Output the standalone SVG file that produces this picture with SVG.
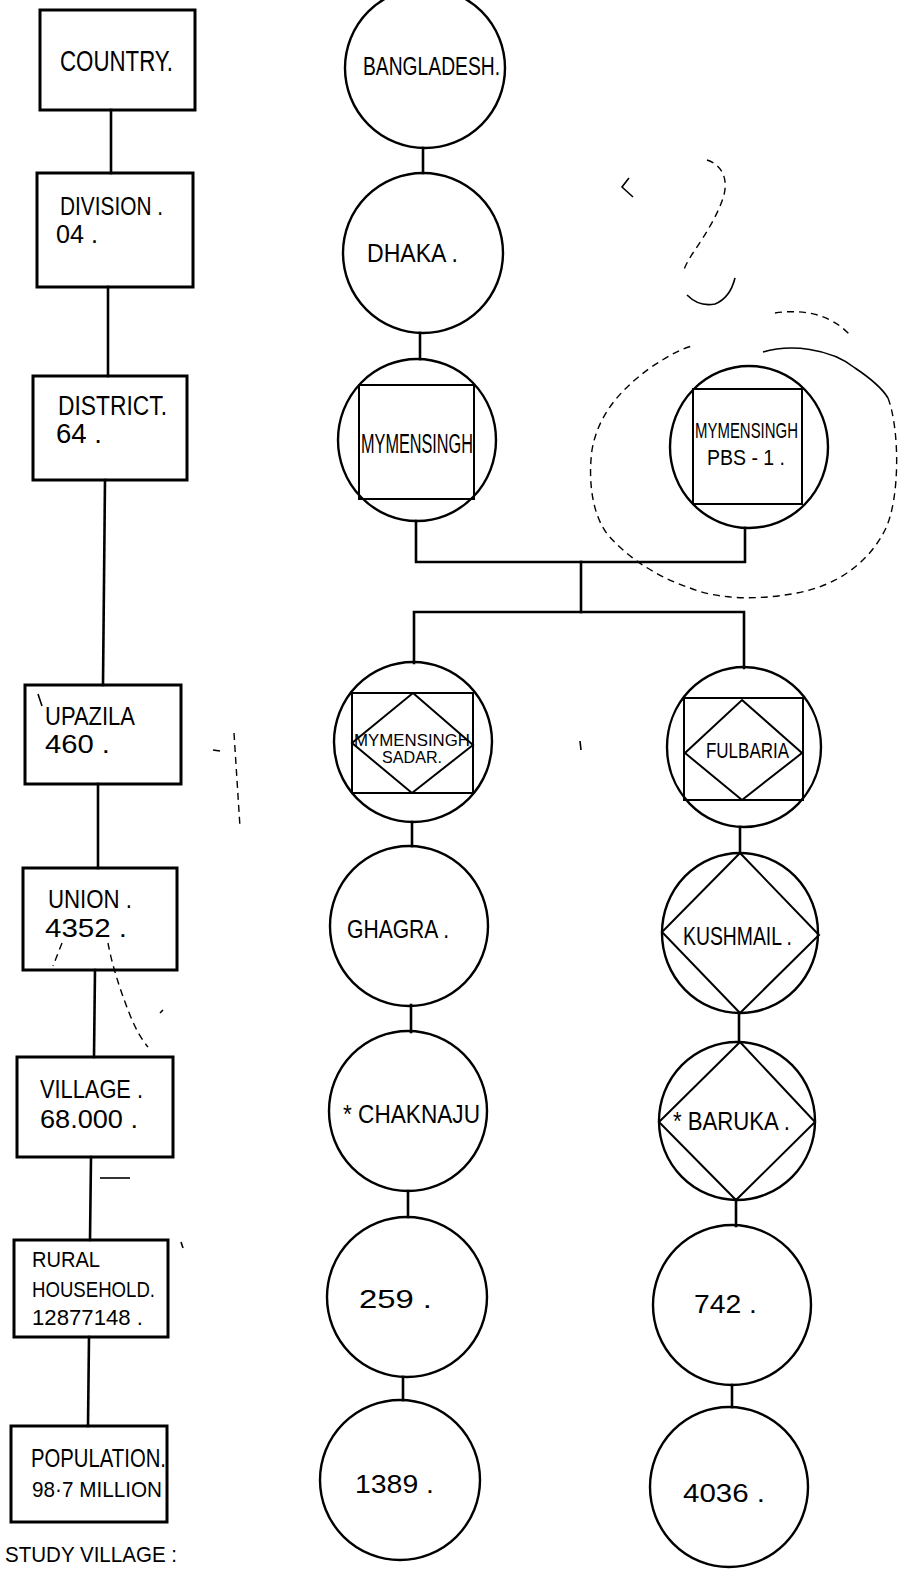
<svg xmlns="http://www.w3.org/2000/svg" width="905" height="1569" viewBox="0 0 905 1569">
<style>
.box{fill:none;stroke:#000;stroke-width:3}
.cir{fill:none;stroke:#000;stroke-width:2.4}
.in{fill:none;stroke:#000;stroke-width:2}
.con{fill:none;stroke:#000;stroke-width:2.6;stroke-linecap:square}
.dash{fill:none;stroke:#000;stroke-width:1.4;stroke-dasharray:7 5}
.sol{fill:none;stroke:#000;stroke-width:1.6}
.t{font-family:"Liberation Sans",Arial,sans-serif;font-size:25px;fill:#000}
.s{font-family:"Liberation Sans",Arial,sans-serif;font-size:22px;fill:#000}
.xs{font-family:"Liberation Sans",Arial,sans-serif;font-size:17px;fill:#000}
</style>
<rect width="905" height="1569" fill="#fff"/>

<g id="connectors">
<line class="con" x1="111" y1="110" x2="111" y2="173"/>
<line class="con" x1="108" y1="287" x2="108" y2="376"/>
<line class="con" x1="105" y1="480" x2="103" y2="685"/>
<line class="con" x1="98" y1="784" x2="98" y2="868"/>
<line class="con" x1="95" y1="970" x2="94" y2="1057"/>
<line class="con" x1="91" y1="1157" x2="90" y2="1240"/>
<line class="con" x1="89" y1="1337" x2="88" y2="1426"/>
<line class="con" x1="423" y1="148" x2="423" y2="173"/>
<line class="con" x1="420" y1="333" x2="420" y2="359"/>
<polyline class="con" points="416,521 416,562 745,562 745,528"/>
<line class="con" x1="581" y1="562" x2="581" y2="612"/>
<polyline class="con" points="414,663 414,612 744,612 744,668"/>
<line class="con" x1="412" y1="822" x2="412" y2="846"/>
<line class="con" x1="411" y1="1005" x2="411" y2="1032"/>
<line class="con" x1="408" y1="1191" x2="408" y2="1217"/>
<line class="con" x1="403" y1="1377" x2="403" y2="1400"/>
<line class="con" x1="740" y1="827" x2="740" y2="853"/>
<line class="con" x1="739" y1="1013" x2="739" y2="1042"/>
<line class="con" x1="736" y1="1200" x2="736" y2="1226"/>
<line class="con" x1="732" y1="1385" x2="732" y2="1407"/>
</g>

<g id="n-country"><rect class="box" x="40" y="10" width="155" height="100"/><text class="t" x="60" y="71" style="font-size:29px" textLength="113" lengthAdjust="spacingAndGlyphs">COUNTRY.</text></g>
<g id="n-division"><rect class="box" x="37" y="173" width="156" height="114"/><text class="t" x="60" y="215" textLength="103" lengthAdjust="spacingAndGlyphs">DIVISION .</text><text class="t" x="56" y="243" textLength="42" lengthAdjust="spacingAndGlyphs">04 .</text></g>
<g id="n-district"><rect class="box" x="33" y="376" width="154" height="104"/><text class="t" x="58" y="415" style="font-size:27px" textLength="109" lengthAdjust="spacingAndGlyphs">DISTRICT.</text><text class="t" x="56" y="443" style="font-size:27px" textLength="46" lengthAdjust="spacingAndGlyphs">64 .</text></g>
<g id="n-upazila"><rect class="box" x="25" y="685" width="156" height="99"/><text class="t" x="45" y="725" textLength="90" lengthAdjust="spacingAndGlyphs">UPAZILA</text><text class="t" x="45" y="753" textLength="65" lengthAdjust="spacingAndGlyphs">460 .</text></g>
<g id="n-union"><rect class="box" x="23" y="868" width="154" height="102"/><text class="t" x="48" y="908" textLength="84" lengthAdjust="spacingAndGlyphs">UNION .</text><text class="t" x="45" y="937" textLength="82" lengthAdjust="spacingAndGlyphs">4352 .</text></g>
<g id="n-village"><rect class="box" x="17" y="1057" width="156" height="100"/><text class="t" x="40" y="1098" textLength="103" lengthAdjust="spacingAndGlyphs">VILLAGE .</text><text class="t" x="40" y="1128" textLength="98" lengthAdjust="spacingAndGlyphs">68.000 .</text></g>
<g id="n-household"><rect class="box" x="14" y="1240" width="154" height="97"/><text class="s" x="32" y="1267" textLength="68" lengthAdjust="spacingAndGlyphs">RURAL</text><text class="s" x="32" y="1297" textLength="123" lengthAdjust="spacingAndGlyphs">HOUSEHOLD.</text><text class="s" x="32" y="1325" textLength="111" lengthAdjust="spacingAndGlyphs">12877148 .</text></g>
<g id="n-population"><rect class="box" x="11" y="1426" width="156" height="96"/><text class="t" x="31" y="1467" textLength="135" lengthAdjust="spacingAndGlyphs">POPULATION.</text><text class="s" x="32" y="1497" textLength="130" lengthAdjust="spacingAndGlyphs">98·7 MILLION</text></g>

<g id="n-bangladesh"><ellipse class="cir" cx="425" cy="68" rx="80" ry="80"/><text class="t" x="363" y="75" textLength="137" lengthAdjust="spacingAndGlyphs">BANGLADESH.</text></g>
<g id="n-dhaka"><ellipse class="cir" cx="423" cy="253" rx="80" ry="80"/><text class="t" x="367" y="262" textLength="91" lengthAdjust="spacingAndGlyphs">DHAKA .</text></g>
<g id="n-mymensingh"><ellipse class="cir" cx="417" cy="440" rx="79" ry="81"/><rect class="in" x="359" y="385" width="115" height="114"/><text class="t" x="361" y="453" style="font-size:27px" textLength="112" lengthAdjust="spacingAndGlyphs">MYMENSINGH</text></g>
<g id="n-pbs1"><ellipse class="cir" cx="749" cy="447" rx="79" ry="81"/><rect class="in" x="693" y="389" width="109" height="115"/><text class="s" x="695" y="438" textLength="103" lengthAdjust="spacingAndGlyphs">MYMENSINGH</text><text class="s" x="707" y="465" textLength="78" lengthAdjust="spacingAndGlyphs">PBS - 1 .</text></g>
<g id="n-sadar"><ellipse class="cir" cx="413" cy="742" rx="79" ry="80"/><rect class="in" x="352" y="693" width="121" height="100"/><polygon class="in" points="413,693 473,745 412,793 352,743"/><text class="xs" x="354" y="746" textLength="116" lengthAdjust="spacingAndGlyphs">MYMENSINGH</text><text class="xs" x="382" y="763" textLength="60" lengthAdjust="spacingAndGlyphs">SADAR.</text></g>
<g id="n-fulbaria"><ellipse class="cir" cx="744" cy="747" rx="77" ry="80"/><rect class="in" x="684" y="698" width="119" height="102"/><polygon class="in" points="742,700 802,753 742,800 685,753"/><text class="s" x="706" y="758" textLength="83" lengthAdjust="spacingAndGlyphs">FULBARIA</text></g>
<g id="n-ghagra"><ellipse class="cir" cx="409" cy="926" rx="79" ry="80"/><text class="t" x="347" y="938" textLength="102" lengthAdjust="spacingAndGlyphs">GHAGRA .</text></g>
<g id="n-kushmail"><ellipse class="cir" cx="740" cy="933" rx="78" ry="80"/><polygon class="in" points="740,853 819,935 740,1013 662,932"/><text class="t" x="683" y="945" textLength="109" lengthAdjust="spacingAndGlyphs">KUSHMAIL .</text></g>
<g id="n-chaknaju"><ellipse class="cir" cx="408" cy="1111" rx="79" ry="80"/><text class="t" x="343" y="1123" textLength="137" lengthAdjust="spacingAndGlyphs">* CHAKNAJU</text></g>
<g id="n-baruka"><ellipse class="cir" cx="737" cy="1121" rx="78" ry="79"/><polygon class="in" points="740,1042 815,1122 736,1200 659,1122"/><text class="t" x="673" y="1130" textLength="117" lengthAdjust="spacingAndGlyphs">* BARUKA .</text></g>
<g id="n-259"><ellipse class="cir" cx="407" cy="1297" rx="80" ry="80"/><text class="t" x="359" y="1308" textLength="73" lengthAdjust="spacingAndGlyphs">259 .</text></g>
<g id="n-742"><ellipse class="cir" cx="732" cy="1305" rx="79" ry="80"/><text class="t" x="694" y="1313" textLength="63" lengthAdjust="spacingAndGlyphs">742 .</text></g>
<g id="n-1389"><ellipse class="cir" cx="400" cy="1480" rx="80" ry="80"/><text class="t" x="355" y="1493" textLength="79" lengthAdjust="spacingAndGlyphs">1389 .</text></g>
<g id="n-4036"><ellipse class="cir" cx="729" cy="1487" rx="79" ry="80"/><text class="t" x="683" y="1502" textLength="82" lengthAdjust="spacingAndGlyphs">4036 .</text></g>

<g id="marks">
<path class="sol" d="M763,352 C790,344 830,348 855,368 C870,378 882,388 888,398"/>
<path class="dash" d="M888,398 C900,430 900,500 885,530 C870,560 840,585 797,593 C760,600 720,600 690,588 C660,578 630,560 608,535 C592,515 588,480 592,450 C598,415 620,390 650,368 C665,358 678,350 692,346"/>
<path class="dash" d="M775,313 C795,310 815,312 830,320 C840,325 845,330 850,335"/>
<path class="dash" d="M707,160 C722,165 728,178 724,195 C718,215 705,235 695,250 C688,260 684,268 683,273"/>
<path class="sol" d="M687,295 C695,303 705,306 715,304 C725,300 732,290 735,278"/>
<polyline class="sol" points="629,178 622,187 633,197"/>
<path class="dash" d="M108,943 C112,965 120,990 130,1015 C136,1030 142,1040 148,1047"/>
<line class="dash" x1="62" y1="943" x2="53" y2="966"/>
<line class="dash" x1="234" y1="733" x2="240" y2="827"/>
<line class="sol" x1="213" y1="750" x2="220" y2="751"/>
<line class="sol" x1="100" y1="1178" x2="130" y2="1178"/>
<line class="sol" x1="38" y1="694" x2="42" y2="706"/>
<line class="sol" x1="580" y1="741" x2="581" y2="750"/>
<line class="sol" x1="181" y1="1242" x2="183" y2="1248"/>
<line class="sol" x1="160" y1="1013" x2="163" y2="1010"/>
</g>

<text class="s" x="5" y="1562" textLength="172" lengthAdjust="spacingAndGlyphs">STUDY VILLAGE :</text>
</svg>
